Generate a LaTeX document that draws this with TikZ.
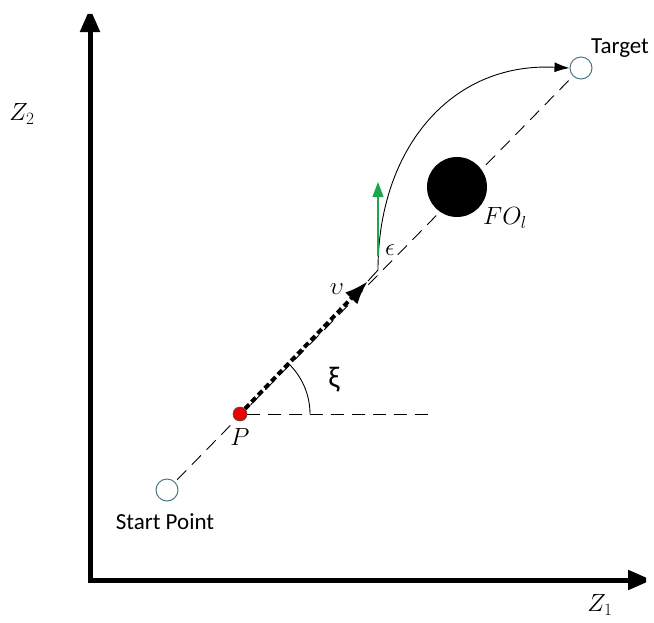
\documentclass[tikz,border=0pt]{standalone}
\usepackage[no-math]{fontspec}
\setmainfont{Carlito}
\usetikzlibrary{calc,arrows.meta}
\definecolor{ringcol}{RGB}{75,120,130}
\definecolor{headcol}{RGB}{30,165,80}
\definecolor{dotcol}{RGB}{235,0,0}

\begin{document}
\begin{tikzpicture}[x=1pt, y=-1pt, >=Latex,
  ring/.style={circle, draw=ringcol, line width=1pt, minimum size=22pt, inner sep=0pt},
  dashline/.style={line width=0.9pt, dash pattern=on 13pt off 8pt},
  lbl/.style={font=\fontsize{23}{23}\selectfont, inner sep=0pt}]
  \useasboundingbox (0,0) rectangle (654,622);

  % Axes
  \coordinate (O) at (90,580);
  \coordinate (ytop) at (90,8);
  \coordinate (xend) at (652,580);
  \draw[line width=5pt, miter limit=2,
    {Triangle[length=24pt,width=19pt]}-{Triangle[length=24pt,width=19pt]}] (ytop) -- (O) -- (xend);
  \node[lbl, font=\fontsize{25}{25}\selectfont] (zlbl2) at (22,114) {$Z_2$};
  \node[lbl, font=\fontsize{25}{25}\selectfont] (zlbl1) at (600,605) {$Z_1$};

  % Start, target and obstacle
  \node[ring] (start) at (167,490) {};
  \node[ring] (target) at (581,68) {};
  \node[lbl] (startlbl) at (165,522) {Start Point};
  \node[lbl] (targetlbl) at (620,48) {Target};
  \draw[dashline, shorten <=3pt, shorten >=6pt] (start) -- (target);
  \node[circle, fill=black, minimum size=60pt, inner sep=0pt] (obst) at (457,187) {};
  \node[lbl, font=\fontsize{25}{25}\selectfont] (obstlbl) at (505,218) {$FO_l$};

  % Point P, heading and angle
  \node[circle, fill=dotcol, draw=black!70, line width=0.6pt, minimum size=14pt, inner sep=0pt] (P) at (240,414) {};
  \node[lbl, font=\fontsize{25}{25}\selectfont] (Plbl) at (240,437) {$P$};
  \coordinate (hend) at (428,414);
  \draw[dashline] (P) -- (hend);
  \draw[line width=0.9pt] ($(P)+(70pt,0pt)$) arc[start angle=0, end angle=47, radius=70pt];
  \node[lbl, font=\fontsize{30}{30}\selectfont] (xilbl) at (334,380) {ξ};

  \coordinate (vtip) at (368,281);
  \coordinate (kink) at (378,270);
  \draw[line width=4pt, dash pattern=on 6pt off 3.5pt, -{Latex[length=24pt,width=17pt]}] (P) -- (vtip);
  \node[lbl, font=\fontsize{34}{34}\selectfont] (vlbl) at (337,289) {$\upsilon$};

  % Avoidance path
  \draw[line width=0.9pt] (vtip) -- (kink);
  \draw[line width=0.9pt, -{Latex[length=15pt,width=10pt]}] (kink) .. controls (378,150) and (450,62) .. (target.west);
  \coordinate (gtip) at (378,182);
  \draw[headcol, line width=1.3pt, -{Triangle[length=15pt,width=11pt]}] (378,256) -- (gtip);
  \node[lbl, font=\fontsize{28}{28}\selectfont] (epslbl) at (390,250) {$\epsilon$};
\end{tikzpicture}
\end{document}
